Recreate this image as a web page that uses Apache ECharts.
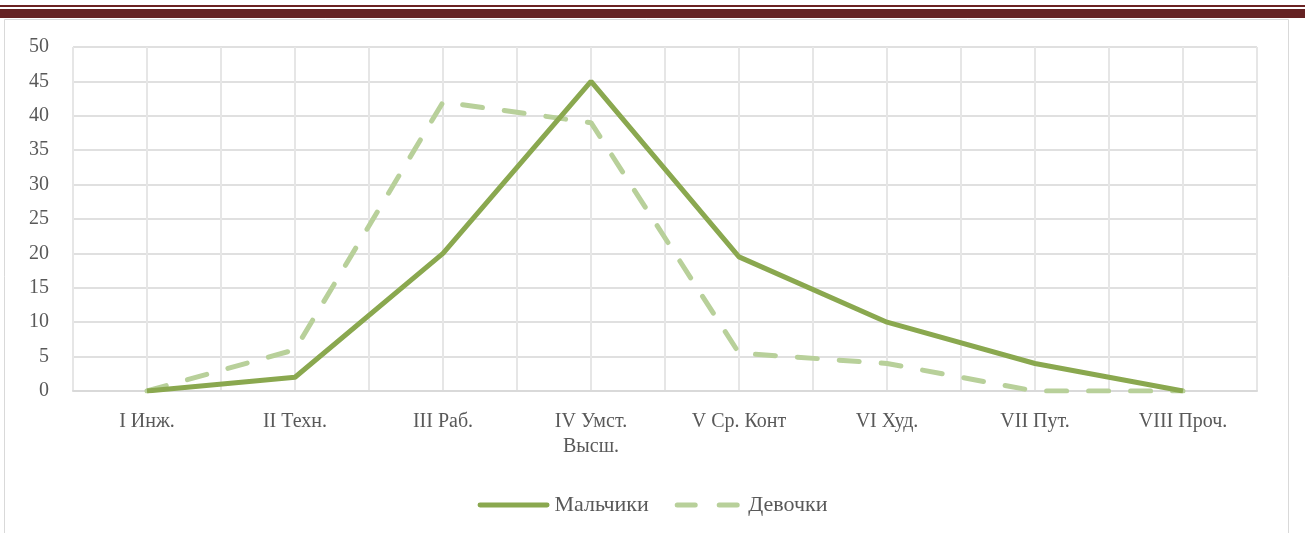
<!DOCTYPE html>
<html>
<head>
<meta charset="utf-8">
<script src="https://cdn.jsdelivr.net/npm/echarts@6/dist/echarts.min.js"></script>
<style>
html, body { margin: 0; padding: 0; background: #fff; }
#chart { width: 1305px; height: 533px; }
</style>
</head>
<body>
<div id="chart"></div>
<script>
// данные
const categories = ['I Инж.', 'II Техн.', 'III Раб.', 'IV Умст.\nВысш.', 'V Ср. Конт', 'VI Худ.', 'VII Пут.', 'VIII Проч.'];
const boys = [0, 2, 20, 45, 19.5, 10, 4, 0];
const girls = [0, 6, 42, 39, 5.5, 4, 0, 0];
const halfSteps = new Array(categories.length * 2).fill('');

const font = 'Liberation Serif';
const myChart = echarts.init(document.getElementById('chart'));

let option = {
  animation: false,
  graphic: [
    { type: 'rect', shape: { x: 0, y: 5, width: 1305, height: 2 }, style: { fill: '#6b2222' } },
    { type: 'rect', shape: { x: 0, y: 9, width: 1305, height: 9 }, style: { fill: '#652223' } },
    { type: 'rect', shape: { x: 4.5, y: 19.5, width: 1284, height: 530 }, style: { fill: 'none', stroke: '#d9d9d9', lineWidth: 1 } }
  ],
  grid: { left: 73, right: 48, top: 47, bottom: 142 },
  legend: {
    bottom: 12,
    itemWidth: 72,
    itemHeight: 5,
    itemGap: 26,
    textStyle: { fontFamily: font, fontSize: 22, color: '#595959' },
    data: [
      { name: 'Мальчики', icon: 'path://M2,0h68a2,2,0,0,1,0,5h-68a2,2,0,0,1,0,-5z', itemStyle: { color: '#8aa84f' } },
      { name: 'Девочки', icon: 'path://M2,0h18a2,2,0,0,1,0,5h-18a2,2,0,0,1,0,-5z M44,0h18a2,2,0,0,1,0,5h-18a2,2,0,0,1,0,-5z', itemStyle: { color: '#b8d09a' } }
    ]
  },
  xAxis: [{
    type: 'category',
    data: categories,
    axisLine: { lineStyle: { color: '#d9d9d9', width: 2 } },
    axisTick: { show: false },
    splitLine: { show: false },
    axisLabel: { fontFamily: font, fontSize: 20, color: '#595959', margin: 18, lineHeight: 25 }
  }, {
    type: 'category',
    data: halfSteps,
    position: 'bottom',
    axisLine: { show: false },
    axisTick: { show: false },
    axisLabel: { show: false },
    splitLine: { show: true, lineStyle: { color: '#e6e6e6', width: 2 } }
  }],
  yAxis: {
    type: 'value',
    min: 0,
    max: 50,
    interval: 5,
    axisLine: { show: false },
    axisTick: { show: false },
    splitLine: { lineStyle: { color: '#e0e0e0', width: 2 } },
    axisLabel: { fontFamily: font, fontSize: 20, color: '#595959', margin: 24 }
  },
  series: [{
    name: 'Мальчики',
    type: 'line',
    data: boys,
    showSymbol: false,
    symbol: 'none',
    z: 3,
    itemStyle: { color: '#8aa84f' },
    lineStyle: { color: '#8aa84f', width: 5 }
  }, {
    name: 'Девочки',
    type: 'line',
    data: girls,
    showSymbol: false,
    symbol: 'none',
    z: 2,
    itemStyle: { color: '#b8d09a' },
    lineStyle: { color: '#b8d09a', width: 5, type: [20, 22], cap: 'round' }
  }]
};

myChart.setOption(option);
</script>
</body>
</html>
